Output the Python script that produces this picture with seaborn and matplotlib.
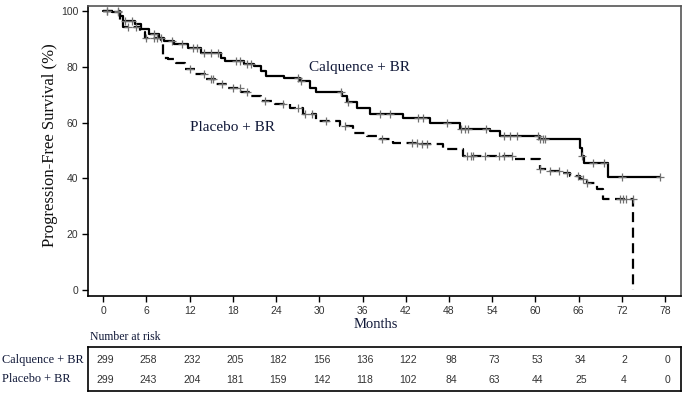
import numpy as np
import pandas as pd
import matplotlib
matplotlib.use("Agg")
import matplotlib.pyplot as plt
import seaborn as sns

# ---- data ----
calq_t = [0, 1.3, 2.3, 2.7, 4.4, 5.2, 6.4, 7.8, 8.5, 9.9, 11.8, 13.6, 16.4, 16.9, 19.6, 21.0,
          21.9, 22.6, 25.1, 27.3, 28.7, 29.6, 33.1, 33.8, 35.2, 37.0, 41.6, 45.4, 49.5, 53.7,
          55.1, 60.6, 66.2, 66.5, 66.8, 70.1, 77.3]
calq_s = [100, 99.5, 98.3, 96.5, 95.3, 93.5, 91.7, 90.5, 89.3, 88.1, 86.9, 85.1, 83.3, 82.1, 80.9, 80.3,
          78.5, 76.7, 76.0, 74.9, 72.5, 70.8, 69.6, 67.2, 65.4, 62.9, 61.7, 59.9, 57.6, 57.0,
          55.1, 54.0, 51.0, 48.0, 45.6, 40.4, 40.4]
calq_cens = [0.5, 2.0, 3.0, 4.0, 7.0, 8.0, 9.5, 11.0, 12.5, 13.0, 14.0, 15.0, 16.0, 18.5, 19.0,
             20.0, 20.5, 27.0, 27.5, 33.0, 34.0, 38.4, 39.8, 43.7, 44.4, 47.7, 49.6, 50.2, 50.7,
             53.2, 55.6, 56.5, 57.4, 60.3, 60.7, 61.0, 61.3, 66.5, 68.0, 69.5, 72.0, 77.3]

plac_t = [0, 2.3, 2.7, 5.1, 5.8, 8.0, 8.3, 9.0, 10.1, 11.3, 12.7, 14.1, 15.5, 17.3, 19.1, 20.5,
          21.9, 23.8, 25.9, 27.7, 29.6, 32.9, 34.7, 36.6, 38.4, 40.2, 44.0, 47.2, 50.0, 57.0,
          60.6, 62.0, 63.8, 64.8, 66.2, 67.1, 68.5, 69.4, 73.6]
plac_s = [100, 96.5, 94.1, 92.3, 90.5, 89.3, 83.3, 82.7, 81.5, 79.1, 77.3, 75.5, 74.0, 72.5, 70.8, 69.5,
          67.7, 66.5, 65.4, 62.9, 60.5, 58.8, 56.4, 55.1, 54.0, 52.8, 52.2, 50.4, 48.0, 46.8,
          43.2, 42.6, 42.0, 41.0, 39.6, 38.4, 36.0, 32.7, 0.0]
plac_cens = [0.5, 2.0, 3.5, 4.5, 6.0, 7.0, 7.5, 12.0, 14.0, 15.0, 15.3, 16.5, 18.0, 19.0, 20.0,
             22.5, 25.0, 27.0, 28.0, 29.0, 31.0, 33.5, 38.7, 42.8, 43.5, 44.2, 44.9, 50.5, 51.0,
             51.3, 53.0, 55.0, 55.6, 56.8, 60.6, 62.0, 63.2, 64.4, 65.9, 66.6, 67.2, 71.8, 72.2,
             72.6, 73.6]

months = [0, 6, 12, 18, 24, 30, 36, 42, 48, 54, 60, 66, 72, 78]
risk_calq = [299, 258, 232, 205, 182, 156, 136, 122, 98, 73, 53, 34, 2, 0]
risk_plac = [299, 243, 204, 181, 159, 142, 118, 102, 84, 63, 44, 25, 4, 0]
y_ticks = [0, 20, 40, 60, 80, 100]

# ---- build frames ----
def step_lookup(times, surv, q):
    idx = np.searchsorted(np.array(times), q, side="right") - 1
    return np.array(surv)[idx]

df_c = pd.DataFrame({"t": calq_t, "s": calq_s})
df_p = pd.DataFrame({"t": plac_t, "s": plac_s})
cc = pd.DataFrame({"t": calq_cens, "s": step_lookup(calq_t, calq_s, calq_cens)})
pc = pd.DataFrame({"t": plac_cens, "s": step_lookup(plac_t[:-1], plac_s[:-1], plac_cens)})

sns.set_style("ticks")
plt.rcParams["font.family"] = ["Liberation Sans", "DejaVu Sans"]

fig = plt.figure(figsize=(6.89, 3.98), dpi=100)
ax = fig.add_axes([88 / 689, 1 - 296 / 398, (681 - 88) / 689, (296 - 6) / 398])

sns.lineplot(data=df_c, x="t", y="s", drawstyle="steps-post", color="black", lw=1.6, ax=ax)
sns.lineplot(data=df_p, x="t", y="s", drawstyle="steps-post", color="black", lw=1.6,
             dashes=False, ax=ax, linestyle=(0, (4.5, 2.5)))
sns.scatterplot(data=cc, x="t", y="s", marker="+", s=40, color="#707070", linewidth=0.9, ax=ax, zorder=3)
sns.scatterplot(data=pc, x="t", y="s", marker="+", s=40, color="#707070", linewidth=0.9, ax=ax, zorder=3)

ax.set_xlim(-2.1, 80.2)
ax.set_ylim(-2.2, 101.8)
ax.set_xticks(months)
ax.set_yticks(y_ticks)
ax.tick_params(axis="both", labelsize=7.5, length=4, width=1, color="black", labelcolor="#333333", pad=3)
for sp in ax.spines.values():
    sp.set_linewidth(1.2)
    sp.set_color("black")
ax.spines["right"].set_color("#555555")
ax.spines["top"].set_color("#555555")

ax.set_xlabel("Months", fontfamily="Liberation Serif", fontsize=10.5, color="#101838")
ax.xaxis.set_label_coords((376 - 88) / 593, 1 - (325 - 6) / 290)
ax.xaxis.label.set_va("center")
ax.set_ylabel("Progression-Free Survival (%)", fontfamily="Liberation Serif", fontsize=12,
              color="#101010")
ax.yaxis.set_label_coords((50 - 88) / 593, (296 - 145) / 290)
ax.yaxis.label.set_va("center")

ax.text(35.6, 79.9, "Calquence + BR", fontfamily="Liberation Serif", fontsize=11,
        color="#101838", ha="center", va="center")
ax.text(18.0, 58.3, "Placebo + BR", fontfamily="Liberation Serif", fontsize=11,
        color="#101838", ha="center", va="center")

# ---- number at risk table ----
tax = fig.add_axes([88 / 689, 1 - 391 / 398, (681 - 88) / 689, (391 - 347) / 398])
tax.set_xlim(-2.1, 80.2)
tax.set_ylim(0, 1)
tax.set_xticks([])
tax.set_yticks([])
for sp in tax.spines.values():
    sp.set_linewidth(1.2)
    sp.set_color("black")
for m, a, b in zip(months, risk_calq, risk_plac):
    tax.text(m + 0.3, 0.70, str(a), ha="center", va="center", fontsize=7.5, color="#333333")
    tax.text(m + 0.3, 0.24, str(b), ha="center", va="center", fontsize=7.5, color="#333333")

fig.text(2 / 689, 1 - 360 / 398, "Calquence + BR", fontfamily="Liberation Serif", fontsize=8.8,
         color="#101838", ha="left", va="center")
fig.text(2 / 689, 1 - 379 / 398, "Placebo + BR", fontfamily="Liberation Serif", fontsize=8.8,
         color="#101838", ha="left", va="center")
fig.text(90 / 689, 1 - 337 / 398, "Number at risk", fontfamily="Liberation Serif", fontsize=8.5,
         color="#101838", ha="left", va="center")

fig.savefig("out.png", dpi=100)
